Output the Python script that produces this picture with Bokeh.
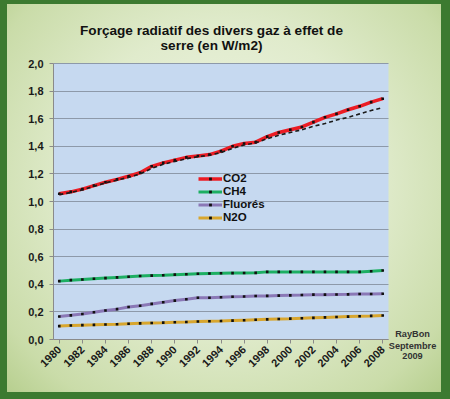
import math
from bokeh.plotting import figure
from bokeh.models import (ColumnDataSource, Range1d, FixedTicker, CustomJSTickFormatter,
                          Legend, LegendItem, Label, BoxAnnotation)
from bokeh.embed import file_html
from bokeh.resources import INLINE

# ---------------- data ----------------
years = list(range(1980, 2009))
co2 = [1.056, 1.070, 1.090, 1.115, 1.140, 1.160, 1.183, 1.208, 1.255, 1.280,
       1.300, 1.320, 1.330, 1.340, 1.365, 1.400, 1.420, 1.430, 1.470, 1.500,
       1.520, 1.540, 1.575, 1.610, 1.635, 1.665, 1.690, 1.720, 1.745]
co2_tendance = [1.050, 1.065, 1.085, 1.110, 1.135, 1.155, 1.175, 1.200, 1.240, 1.270,
                1.290, 1.310, 1.325, 1.335, 1.355, 1.385, 1.410, 1.425, 1.455, 1.480,
                1.500, 1.520, 1.545, 1.565, 1.590, 1.610, 1.635, 1.660, 1.680]
ch4 = [0.423, 0.430, 0.435, 0.440, 0.445, 0.450, 0.455, 0.460, 0.463, 0.466,
       0.470, 0.473, 0.476, 0.478, 0.480, 0.481, 0.482, 0.483, 0.490, 0.490,
       0.490, 0.490, 0.490, 0.490, 0.490, 0.490, 0.490, 0.495, 0.500]
fluores = [0.167, 0.175, 0.185, 0.198, 0.210, 0.220, 0.235, 0.245, 0.258, 0.270,
           0.282, 0.292, 0.302, 0.302, 0.306, 0.310, 0.312, 0.315, 0.316, 0.318,
           0.320, 0.322, 0.325, 0.325, 0.326, 0.327, 0.330, 0.330, 0.331]
n2o = [0.097, 0.101, 0.104, 0.106, 0.109, 0.111, 0.114, 0.117, 0.120, 0.122,
       0.125, 0.127, 0.130, 0.132, 0.134, 0.137, 0.140, 0.143, 0.146, 0.149,
       0.151, 0.154, 0.157, 0.160, 0.163, 0.166, 0.169, 0.171, 0.174]
series_names = ["CO2", "CH4", "Fluorés", "N2O"]
x_ticks = list(range(1980, 2009, 2))
y_ticks = [0.0, 0.2, 0.4, 0.6, 0.8, 1.0, 1.2, 1.4, 1.6, 1.8, 2.0]
title_lines = ["Forçage radiatif des divers gaz à effet de", "serre (en W/m2)"]
signature_lines = ["RayBon", "Septembre", "2009"]

# ---------------- layout geometry (pixels, figure coordinates, y down) ----------------
FONT = "Liberation Sans"
FIG_W, FIG_H = 434, 388
AREA_L, AREA_T, AREA_R, AREA_B = 46, 59, 381, 335   # blue plotting area
x_lo, x_hi = years[0] - 0.5, years[-1] + 0.5
y_lo, y_hi = y_ticks[0], y_ticks[-1]
px_x = (AREA_R - AREA_L) / (x_hi - x_lo)
px_y = (AREA_B - AREA_T) / (y_hi - y_lo)
x_start = x_lo - AREA_L / px_x
x_end = x_hi + (FIG_W - AREA_R) / px_x
y_end = y_hi + AREA_T / px_y
y_start = y_lo - (FIG_H - AREA_B) / px_y

p = figure(width=FIG_W, height=FIG_H, output_backend="svg", toolbar_location=None,
           x_range=Range1d(x_start, x_end), y_range=Range1d(y_start, y_end),
           min_border_left=0, min_border_right=0, min_border_top=0, min_border_bottom=0)
p.title.visible = False
p.background_fill_color = None
p.border_fill_color = None
p.outline_line_color = None

# blue plotting area
p.add_layout(BoxAnnotation(left=x_lo, right=x_hi, bottom=y_lo, top=y_hi,
                           fill_color="#C6D9F0", fill_alpha=1, line_color=None,
                           level="image"))

p.xgrid.visible = False
grid_ok = True
try:
    p.ygrid.cross_bounds = (x_lo, x_hi)
    p.ygrid.bounds = (y_lo, y_hi)
    p.ygrid.grid_line_color = "#8D99A9"
    p.ygrid.grid_line_width = 1
except Exception:
    grid_ok = False
if not grid_ok:
    p.ygrid.visible = False
    p.segment(x0=[x_lo] * len(y_ticks), x1=[x_hi] * len(y_ticks), y0=y_ticks, y1=y_ticks,
              line_color="#8D99A9", line_width=1, level="underlay")

p.xaxis.ticker = FixedTicker(ticks=x_ticks)
p.xaxis.major_label_orientation = math.pi / 4
p.xaxis.fixed_location = y_lo
p.xaxis.bounds = (x_lo, x_hi)
p.yaxis.ticker = FixedTicker(ticks=y_ticks)
p.yaxis.fixed_location = x_lo
p.yaxis.bounds = (y_lo, y_hi)
p.yaxis.formatter = CustomJSTickFormatter(code="return tick.toFixed(1).replace('.', ',');")
for ax in (p.xaxis, p.yaxis):
    ax.axis_line_color = "#8A8A8A"
    ax.major_tick_line_color = "#8A8A8A"
    ax.major_tick_in = 0
    ax.major_tick_out = 4
    ax.minor_tick_line_color = None
    ax.major_label_text_font = FONT
    ax.major_label_text_font_style = "bold"
    ax.major_label_text_font_size = "11px"
    ax.major_label_text_color = "#1A1A1A"
p.yaxis.major_label_standoff = 6
p.xaxis.major_label_standoff = 4

src = ColumnDataSource(dict(x=years, co2=co2, tend=co2_tendance, ch4=ch4, fl=fluores, n2o=n2o))

colors = {"co2": "#EC1C24", "ch4": "#1DAF62", "fl": "#8A78B6", "n2o": "#D8A62E"}
widths = {"co2": 3.5, "ch4": 3, "fl": 3, "n2o": 3}
items = []
for key, name in zip(["co2", "ch4", "fl", "n2o"], series_names):
    lr = p.line("x", key, source=src, line_color=colors[key], line_width=widths[key])
    mr = p.scatter("x", key, source=src, marker="square", size=2.6, fill_color="#111111",
                   line_color=None)
    items.append(LegendItem(label=name, renderers=[lr, mr]))

p.line("x", "tend", source=src, line_color="#1A1A1A", line_width=1.6, line_dash="4 3")

# legend (location: bottom-left corner, pixels from the frame's bottom-left)
legend = Legend(items=items, location=(191, FIG_H - 219), label_text_font=FONT,
                label_text_font_style="bold", label_text_font_size="11.5px",
                label_text_color="#111111",
                glyph_width=24, glyph_height=7, label_height=12, spacing=1,
                padding=0, margin=0, label_standoff=1,
                background_fill_alpha=0, border_line_color=None)
p.add_layout(legend)

# title (two centred lines; baselines in figure pixels from the top)
for txt, base in zip(title_lines, [25.8, 41.2]):
    p.add_layout(Label(x=204, y=FIG_H - base, x_units="screen", y_units="screen", text=txt,
                       text_align="center", text_baseline="alphabetic", text_font=FONT,
                       text_font_style="bold", text_font_size="13.6px", text_color="#111111"))

# signature at the lower right
for txt, mid in zip(signature_lines, [329.5, 341.0, 351.3]):
    p.add_layout(Label(x=405, y=FIG_H - mid, x_units="screen", y_units="screen", text=txt,
                       text_align="center", text_baseline="middle", text_font=FONT,
                       text_font_style="bold", text_font_size="9.2px", text_color="#333333"))

html = file_html(p, INLINE, title="Forçage radiatif")
css = ("<style>html{margin:0;padding:0;overflow:hidden;background:#3C7A30;}"
       "body{margin:0;box-sizing:border-box;width:450px;height:399px;padding:4px 9px 7px 7px;overflow:hidden;"
       "background-image:radial-gradient(ellipse at 50% 45%, #F1F6E8 0%, #E0EBCC 50%, #CADCA9 85%, #B7CF8F 100%);"
       "background-color:#D6E4BD;background-clip:content-box;background-origin:content-box;"
       "background-repeat:no-repeat;}</style>")
html = html.replace("</head>", css + "</head>", 1)
with open("out.html", "w") as f:
    f.write(html)
